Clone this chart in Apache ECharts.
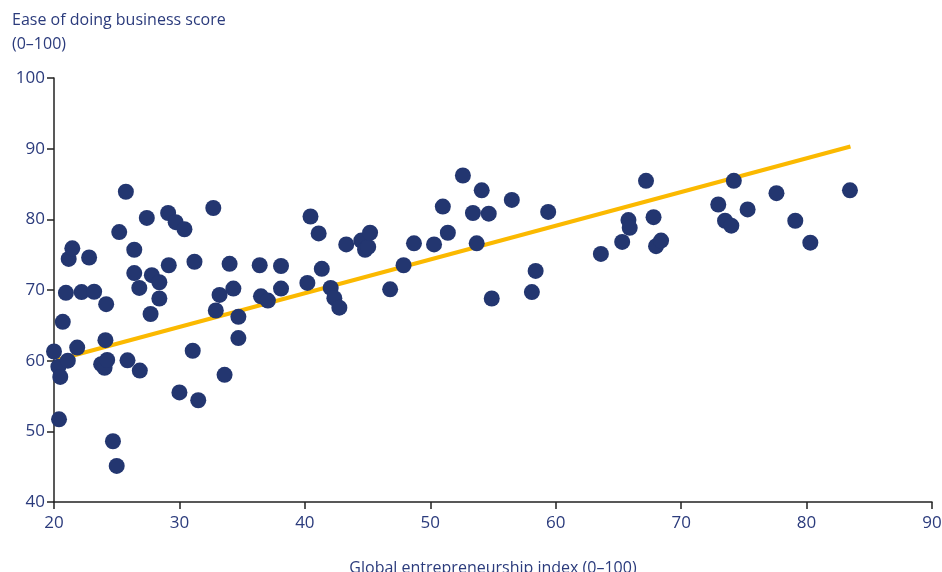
<!DOCTYPE html>
<html>
<head>
<meta charset="utf-8">
<script src="https://cdn.jsdelivr.net/npm/echarts@6/dist/echarts.min.js"></script>
<style>
html,body{margin:0;padding:0;background:#fff;}
#c{width:942px;height:572px;}
</style>
</head>
<body>
<div id="c"></div>
<script>
// Global entrepreneurship index (x) vs Ease of doing business score (y)
const gei = [20.0,20.35,20.5,20.4,20.7,20.95,21.1,21.17,21.46,21.85,22.2,22.8,23.2,23.76,24.03,24.24,24.1,24.16,24.7,25.0,
  25.2,25.73,25.86,26.4,26.4,26.8,26.84,27.4,27.7,27.8,28.4,28.4,29.1,29.15,29.7,30.0,30.4,31.06,31.2,31.5,
  32.7,32.9,33.2,33.6,34.0,34.3,34.7,34.7,36.4,36.5,37.05,38.1,38.1,40.2,40.45,41.1,41.35,42.06,42.35,42.75,
  43.3,44.5,44.8,45.05,45.2,46.8,47.87,48.7,50.3,51.0,51.4,52.6,53.4,53.7,54.1,54.66,54.9,56.5,58.1,58.4,
  59.4,63.6,65.3,65.8,65.9,67.2,67.8,68.0,68.4,72.96,73.5,74.0,74.2,75.3,77.6,79.1,80.3,83.46];
const ease = [61.3,59.15,57.7,51.7,65.5,69.6,60.0,74.4,75.9,61.85,69.7,74.6,69.75,59.5,59.0,60.1,62.9,68.0,48.6,45.1,
  78.2,83.9,60.05,75.7,72.4,70.3,58.6,80.2,66.6,72.1,71.1,68.8,80.9,73.5,79.6,55.5,78.6,61.4,74.0,54.4,
  81.6,67.1,69.3,58.0,73.7,70.2,66.2,63.2,73.5,69.1,68.5,73.4,70.2,71.0,80.4,78.0,73.0,70.3,68.85,67.5,
  76.45,77.0,75.7,76.1,78.1,70.1,73.5,76.6,76.45,81.8,78.1,86.2,80.9,76.6,84.1,80.8,68.8,82.75,69.7,72.7,
  81.05,75.1,76.8,79.9,78.8,85.45,80.3,76.2,77.0,82.1,79.8,79.1,85.45,81.4,83.7,79.8,76.7,84.1];
const trendX = [20.2, 83.5];
const trendY = [60.1, 90.3];
const xTicks = [20,30,40,50,60,70,80,90];
const yTicks = [40,50,60,70,80,90,100];

const navy = '#233670';
const labelColor = '#2b3b7c';
const font = '"Liberation Sans Narrow", "Open Sans", sans-serif';

const chart = echarts.init(document.getElementById('c'), null, {renderer:'canvas'});
chart.setOption({
  animation:false,
  backgroundColor:'#fff',
  grid:{left:54, right:10, top:78, bottom:70, containLabel:false, outerBoundsMode:'none'},
  graphic:[
    {type:'text', left:12, top:12, style:{text:'Ease of doing business score', fill:labelColor, font:'16px '+font}},
    {type:'text', left:12, top:36, style:{text:'(0–100)', fill:labelColor, font:'16px '+font}}
  ],
  xAxis:{
    type:'value', min:xTicks[0], max:xTicks[xTicks.length-1], interval:10,
    name:'Global entrepreneurship index (0–100)', nameLocation:'middle', nameGap:58,
    nameTextStyle:{color:labelColor, fontSize:16, fontFamily:font},
    axisLine:{lineStyle:{color:'#222', width:1.5}},
    axisTick:{show:true, inside:false, length:7, lineStyle:{color:'#222', width:1.5}},
    axisLabel:{color:labelColor, fontSize:17, fontFamily:font, margin:13},
    splitLine:{show:false}
  },
  yAxis:{
    type:'value', min:yTicks[0], max:yTicks[yTicks.length-1], interval:10,
    axisLine:{show:true, lineStyle:{color:'#222', width:1.5}},
    axisTick:{show:true, inside:false, length:7, lineStyle:{color:'#222', width:1.5}},
    axisLabel:{color:labelColor, fontSize:17, fontFamily:font, margin:9},
    splitLine:{show:false}
  },
  series:[
    {type:'line', data:trendX.map((x,i)=>[x,trendY[i]]), symbol:'none', z:2,
     lineStyle:{color:'#fbb900', width:4}},
    {type:'scatter', data:gei.map((x,i)=>[x,ease[i]]), symbolSize:16, z:3,
     itemStyle:{color:navy, opacity:1}}
  ]
});
</script>
</body>
</html>
